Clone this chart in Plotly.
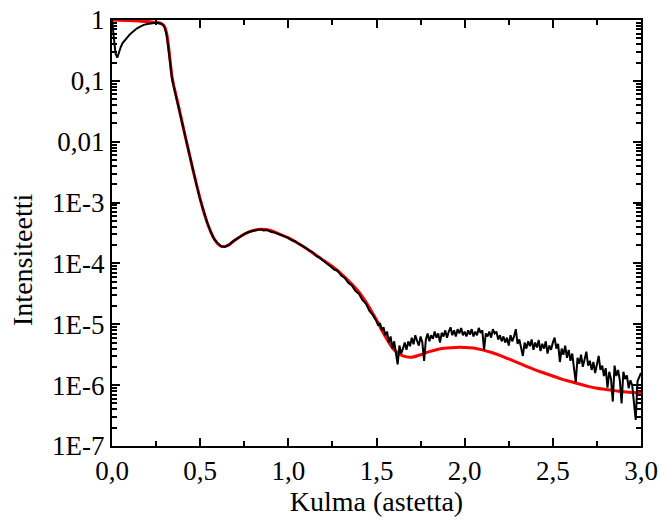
import plotly.graph_objects as go

# fit curve (red), log10 of intensity
fit_x = [0.00, 0.05, 0.10, 0.15, 0.20, 0.25, 0.27, 0.29, 0.30, 0.31, 0.32, 0.33, 0.34, 0.35, 0.36,
         0.38, 0.40, 0.42, 0.44, 0.46, 0.48, 0.50, 0.52, 0.54, 0.56, 0.58, 0.60, 0.62, 0.64, 0.66,
         0.70, 0.75, 0.80, 0.85, 0.90, 0.95, 1.00, 1.05, 1.10, 1.15, 1.20, 1.25, 1.30, 1.35, 1.40,
         1.45, 1.50, 1.55, 1.60, 1.65, 1.70, 1.75, 1.80, 1.85, 1.90, 1.95, 2.00, 2.05, 2.10, 2.15,
         2.20, 2.25, 2.30, 2.35, 2.40, 2.45, 2.50, 2.55, 2.60, 2.65, 2.70, 2.75, 2.80, 2.85, 2.90,
         2.95, 3.00]
fit_log = [0.0, -0.005, -0.01, -0.017, -0.025, -0.04, -0.05, -0.08, -0.12, -0.22, -0.42, -0.68, -0.93, -1.08, -1.20,
           -1.45, -1.71, -1.97, -2.22, -2.47, -2.71, -2.94, -3.15, -3.33, -3.48, -3.60, -3.68, -3.72, -3.72, -3.70,
           -3.61, -3.52, -3.46, -3.44, -3.46, -3.52, -3.58, -3.66, -3.75, -3.85, -3.95, -4.05, -4.17, -4.31, -4.47,
           -4.68, -4.93, -5.20, -5.42, -5.52, -5.54, -5.50, -5.45, -5.41, -5.39, -5.38, -5.38, -5.39, -5.42, -5.46,
           -5.51, -5.57, -5.63, -5.69, -5.75, -5.80, -5.85, -5.90, -5.94, -5.98, -6.02, -6.05, -6.07, -6.09, -6.11,
           -6.12, -6.13]

# measured curve (black), log10 of intensity
meas_x = [0.00, 0.01, 0.02, 0.03, 0.04, 0.05, 0.06, 0.08, 0.10, 0.12, 0.14, 0.16, 0.18, 0.20, 0.22,
          0.24, 0.26, 0.28, 0.29, 0.30, 0.31, 0.32, 0.33, 0.34, 0.35, 0.36, 0.38, 0.40, 0.42, 0.44,
          0.46, 0.48, 0.50, 0.52, 0.54, 0.56, 0.58, 0.60, 0.62, 0.64, 0.66, 0.68, 0.70, 0.72, 0.74,
          0.76, 0.78, 0.80, 0.82, 0.84, 0.86, 0.88, 0.90, 0.92, 0.94, 0.96, 0.98, 1.00, 1.02, 1.04,
          1.06, 1.08, 1.10, 1.12, 1.14, 1.16, 1.18, 1.20, 1.22, 1.24, 1.26, 1.28, 1.30, 1.32, 1.34,
          1.36, 1.38, 1.40, 1.42, 1.44, 1.46, 1.48,
          1.50, 1.51, 1.52, 1.53, 1.54, 1.55, 1.56, 1.57, 1.58, 1.59,
          1.60, 1.61, 1.62, 1.63, 1.64, 1.65, 1.66, 1.67, 1.68, 1.69,
          1.70, 1.71, 1.72, 1.73, 1.74, 1.75, 1.76, 1.77, 1.78, 1.79,
          1.80, 1.81, 1.82, 1.83, 1.84, 1.85, 1.86, 1.87, 1.88, 1.89,
          1.90, 1.91, 1.92, 1.93, 1.94, 1.95, 1.96, 1.97, 1.98, 1.99,
          2.00, 2.01, 2.02, 2.03, 2.04, 2.05, 2.06, 2.07, 2.08, 2.09,
          2.10, 2.11, 2.12, 2.13, 2.14, 2.15, 2.16, 2.17, 2.18, 2.19,
          2.20, 2.21, 2.22, 2.23, 2.24, 2.25, 2.26, 2.27, 2.28, 2.29,
          2.30, 2.31, 2.32, 2.33, 2.34, 2.35, 2.36, 2.37, 2.38, 2.39,
          2.40, 2.41, 2.42, 2.43, 2.44, 2.45, 2.46, 2.47, 2.48, 2.49,
          2.50, 2.51, 2.52, 2.53, 2.54, 2.55, 2.56, 2.57, 2.58, 2.59,
          2.60, 2.61, 2.62, 2.63, 2.64, 2.65, 2.66, 2.67, 2.68, 2.69,
          2.70, 2.71, 2.72, 2.73, 2.74, 2.75, 2.76, 2.77, 2.78, 2.79,
          2.80, 2.81, 2.82, 2.83, 2.84, 2.85, 2.86, 2.87, 2.88, 2.89,
          2.90, 2.91, 2.92, 2.93, 2.94, 2.95, 2.96, 2.97, 2.98, 2.99, 3.00]
meas_log = [0.0, -0.30, -0.55, -0.62, -0.52, -0.44, -0.38, -0.30, -0.24, -0.19, -0.14, -0.11, -0.08, -0.065, -0.055,
            -0.05, -0.05, -0.06, -0.08, -0.13, -0.25, -0.45, -0.70, -0.95, -1.10, -1.22, -1.47, -1.73, -1.98, -2.23,
            -2.48, -2.72, -2.95, -3.15, -3.33, -3.48, -3.60, -3.67, -3.72, -3.73, -3.70, -3.65, -3.61, -3.57, -3.53,
            -3.50, -3.48, -3.46, -3.45, -3.44, -3.46, -3.45, -3.48, -3.49, -3.51, -3.54, -3.56, -3.58, -3.62, -3.64,
            -3.68, -3.71, -3.75, -3.79, -3.82, -3.88, -3.91, -3.96, -4.00, -4.05, -4.10, -4.12, -4.20, -4.24, -4.32,
            -4.36, -4.45, -4.50, -4.60, -4.66, -4.78, -4.85,
            -4.95, -5.02, -4.98, -5.10, -5.05, -5.18, -5.12, -5.30, -5.20, -5.40,
            -5.28, -5.45, -5.66, -5.35, -5.48, -5.40, -5.30, -5.42, -5.28, -5.36,
            -5.22, -5.33, -5.18, -5.27, -5.35, -5.20, -5.30, -5.60, -5.25, -5.15,
            -5.28, -5.18, -5.24, -5.12, -5.22, -5.15, -5.30, -5.14, -5.20, -5.10,
            -5.22, -5.12, -5.05, -5.18, -5.10, -5.20, -5.08, -5.15, -5.06, -5.18,
            -5.12, -5.20, -5.10, -5.17, -5.08, -5.20, -5.12, -5.18, -5.06, -5.14,
            -5.10, -5.42, -5.15, -5.20, -5.12, -5.22, -5.08, -5.15, -5.12, -5.25,
            -5.18, -5.28, -5.20, -5.30, -5.22, -5.35, -5.18, -5.28, -5.20, -5.08,
            -5.32, -5.25, -5.38, -5.52, -5.30, -5.40, -5.28, -5.36, -5.25, -5.42,
            -5.30, -5.38, -5.26, -5.44, -5.32, -5.40, -5.28, -5.48, -5.35, -5.42,
            -5.30, -5.22, -5.40, -5.32, -5.62, -5.40, -5.50, -5.35, -5.55, -5.42,
            -5.60, -5.48, -5.72, -5.95, -5.55, -5.65, -5.50, -5.70, -5.58, -5.45,
            -5.68, -5.60, -5.75, -5.62, -5.80, -5.66, -5.52, -5.75, -5.68, -5.85,
            -5.72, -6.04, -5.78, -5.90, -6.27, -5.68, -5.85, -5.75, -5.92, -6.30,
            -5.78, -5.90, -5.84, -6.05, -5.92, -6.00, -6.30, -6.57, -5.94, -5.85, -5.80]

y_tickvals = [1e-7, 1e-6, 1e-5, 1e-4, 1e-3, 1e-2, 1e-1, 1]
y_ticktext = ['1E-7', '1E-6', '1E-5', '1E-4', '1E-3', '0,01', '0,1', '1']
x_tickvals = [0, 0.5, 1.0, 1.5, 2.0, 2.5, 3.0]
x_ticktext = ['0,0', '0,5', '1,0', '1,5', '2,0', '2,5', '3,0']

fig = go.Figure()
fig.add_trace(go.Scatter(x=fit_x, y=[10 ** v for v in fit_log], mode='lines',
                         line=dict(color='#ff0000', width=3), line_shape='spline'))
fig.add_trace(go.Scatter(x=meas_x, y=[10 ** v for v in meas_log], mode='lines',
                         line=dict(color='black', width=2)))

font = 'Liberation Serif'
fig.update_layout(
    width=660, height=522,
    margin=dict(l=112, r=19, t=20, b=76),
    paper_bgcolor='white', plot_bgcolor='white',
    showlegend=False,
    font=dict(family=font, size=27, color='black'),
)
fig.update_xaxes(
    range=[0, 3], tickvals=x_tickvals, ticktext=x_ticktext,
    ticks='inside', ticklen=8, tickwidth=1.5, tickcolor='black',
    minor=dict(ticks='inside', ticklen=5, tickwidth=1.5, dtick=0.25, tickcolor='black'),
    showline=True, linecolor='black', linewidth=2, mirror='ticks',
    showgrid=False, zeroline=False, automargin=False,
    tickfont=dict(size=27), ticklabeloverflow='allow',
    title=dict(text='Kulma (astetta)', standoff=4, font=dict(size=28)),
)
fig.update_yaxes(
    type='log', range=[-7, 0], tickvals=y_tickvals, ticktext=y_ticktext,
    ticks='inside', ticklen=8, tickwidth=1.5, tickcolor='black',
    minor=dict(ticks='inside', ticklen=5, tickwidth=1.5, dtick='D1', tickcolor='black'),
    showline=True, linecolor='black', linewidth=2, mirror='ticks',
    showgrid=False, zeroline=False, layer='below traces', automargin=False,
    tickfont=dict(size=27), ticklabeloverflow='allow',
)
fig.add_annotation(text='Intensiteetti', textangle=-90, font=dict(size=28),
                   xref='paper', yref='paper', x=-0.168, y=0.437,
                   xanchor='center', yanchor='middle', showarrow=False)

# drop the default 8px page margin so the figure fills the window exactly
fig.write_html("out.html", config={'displayModeBar': False},
               post_script="document.body.style.margin='0';")
